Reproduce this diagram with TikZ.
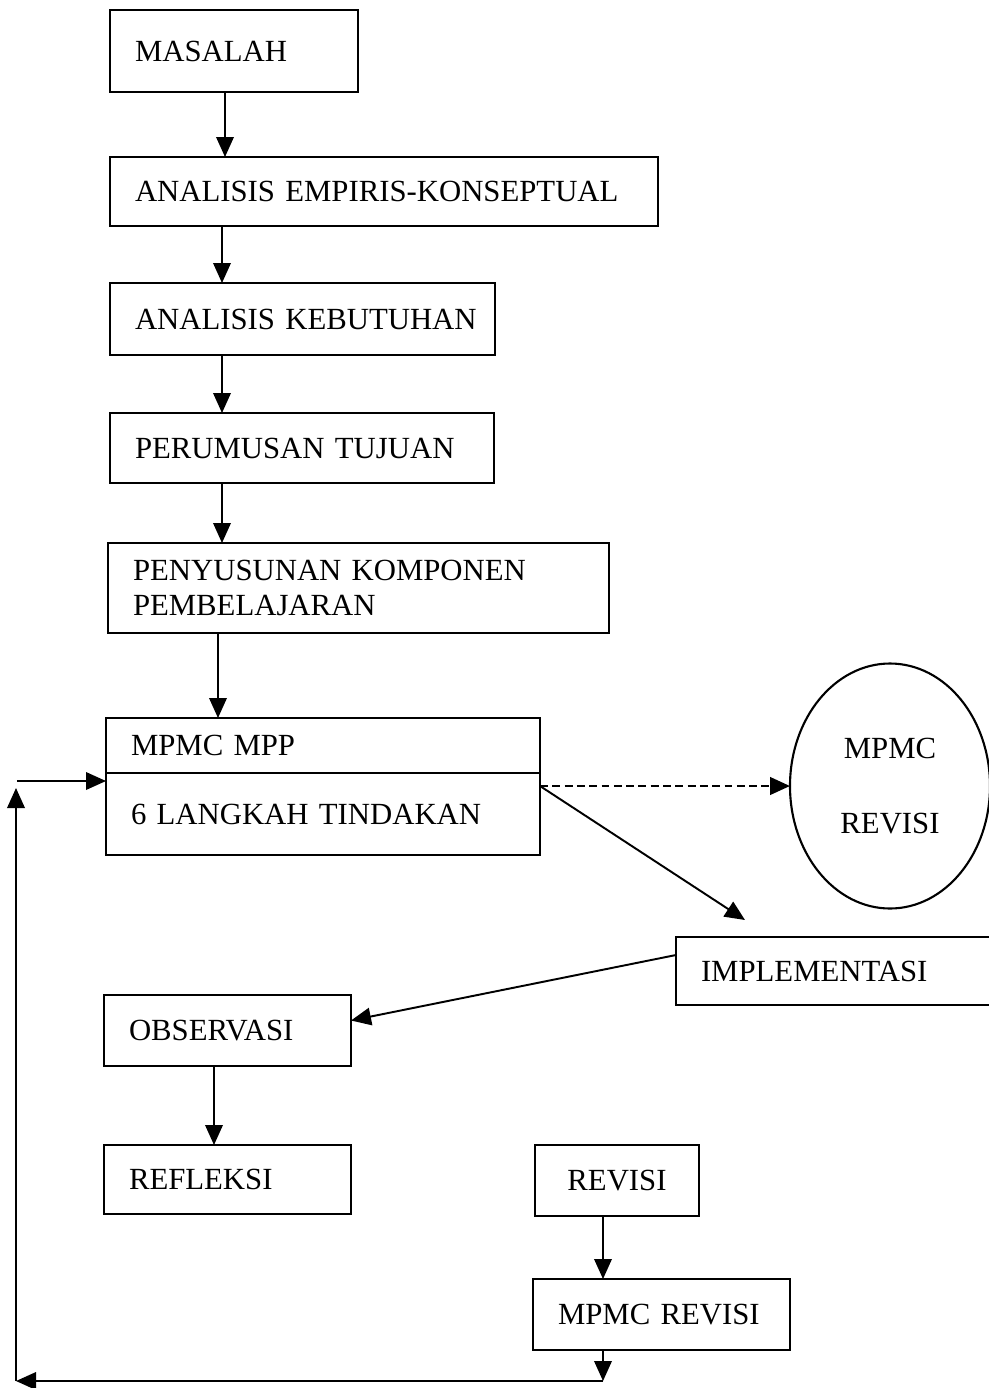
\documentclass[tikz,border=0pt]{standalone}
\usepackage{fontspec}
\setmainfont{Liberation Serif}
\usetikzlibrary{positioning,shapes,arrows.meta,calc}

\begin{document}
\begin{tikzpicture}[node distance=1.2cm, auto]
	\tikzset{
		mybox/.style={rectangle, draw=black, line width=1.2pt, outer sep=0pt, inner xsep=5mm, inner ysep=0mm, align=left, font=\fontsize{17.5}{20}\selectfont},
		myoval/.style={ellipse, draw=black, line width=1.2pt, outer sep=0pt, inner sep=0mm, minimum width=4cm, minimum height=4.9cm, align=center, font=\fontsize{17.5}{20}\selectfont},
		myarrow/.style={-{Triangle[length=4mm,width=3.5mm]}, line width=1.1pt},
		mydash/.style={myarrow, line width=1.6pt, dash pattern=on 4.5pt off 2.5pt}
	}
	\useasboundingbox (0,0) rectangle (19.78,-27.76);
	\clip (0,0) rectangle (19.78,-27.76);

	\node[mybox, text width=3.96cm, minimum height=1.64cm, anchor=north west] (masalah) at (2.2,-0.2) {MASALAH};
	\node[mybox, text width=9.96cm, minimum height=1.38cm, below=1.3cm of masalah.south west, anchor=north west] (empiris) {ANALISIS EMPIRIS-KONSEPTUAL};
	\node[mybox, text width=6.7cm, minimum height=1.44cm, below=1.14cm of empiris.south west, anchor=north west] (kebutuhan) {\mbox{ANALISIS KEBUTUHAN}};
	\node[mybox, text width=6.68cm, minimum height=1.4cm, below=1.16cm of kebutuhan.south west, anchor=north west] (tujuan) {PERUMUSAN TUJUAN};
	\node[mybox, text width=9.02cm, minimum height=1.8cm, below=1.2cm of tujuan.south west, anchor=north west, xshift=-0.04cm] (komponen) {PENYUSUNAN KOMPONEN\\PEMBELAJARAN};

	\node[mybox, text width=7.68cm, minimum height=1.1cm, below=1.7cm of komponen.south west, anchor=north west, xshift=-0.04cm] (mpp) {MPMC MPP};
	\node[mybox, text width=7.68cm, minimum height=1.64cm, anchor=north west] (langkah) at (mpp.south west) {6 LANGKAH TINDAKAN};
	\coordinate (split) at ([yshift=-0.26cm]langkah.north east);
	\node[myoval, right=5cm of split] (rev) {MPMC\\[0.8cm]REVISI};

	\node[mybox, text width=5.8cm, minimum height=1.36cm, below right=1.64cm and 2.72cm of langkah.south east, anchor=north west] (impl) {IMPLEMENTASI};
	\node[mybox, text width=3.94cm, minimum height=1.42cm, below=2.8cm of langkah.south west, anchor=north west, xshift=-0.04cm] (obs) {OBSERVASI};
	\node[mybox, text width=3.94cm, minimum height=1.38cm, below=1.58cm of obs.south west, anchor=north west] (ref) {REFLEKSI};
	\node[mybox, text width=2.28cm, minimum height=1.42cm, right=3.68cm of ref.north east, anchor=north west, align=center] (revisi) {REVISI};
	\node[mybox, text width=4.14cm, minimum height=1.42cm, below=1.26cm of revisi.south west, anchor=north west, xshift=-0.04cm] (mpmcrev) {MPMC REVISI};

	\draw[myarrow] ([xshift=-0.18cm]masalah.south) -- ([xshift=-0.18cm]masalah.south |- empiris.north);
	\draw[myarrow] ([xshift=2.24cm]empiris.south west) -- ([xshift=2.24cm]empiris.south west |- kebutuhan.north);
	\draw[myarrow] ([xshift=2.24cm]kebutuhan.south west) -- ([xshift=2.24cm]kebutuhan.south west |- tujuan.north);
	\draw[myarrow] ([xshift=2.24cm]tujuan.south west) -- ([xshift=2.24cm]tujuan.south west |- komponen.north);
	\draw[myarrow] ([xshift=2.2cm]komponen.south west) -- ([xshift=2.2cm]komponen.south west |- mpp.north);

	\draw[mydash] (split) -- (rev.west);
	\draw[myarrow] (split) -- ([shift={(1.38cm,0.34cm)}]impl.north west);
	\draw[myarrow] ([yshift=0.32cm]impl.west) -- ([yshift=0.2cm]obs.east);
	\draw[myarrow] ([xshift=2.2cm]obs.south west) -- ([xshift=2.2cm]obs.south west |- ref.north);
	\draw[myarrow] ([xshift=1.36cm]revisi.south west) -- ([xshift=1.36cm]revisi.south west |- mpmcrev.north);

	% feedback loop
	\coordinate (bot) at ([xshift=1.4cm,yshift=-0.62cm]mpmcrev.south west);
	\coordinate (loopT) at (0.32,-15.76);
	\coordinate (loopL) at (loopT |- bot);
	\coordinate (entry) at (0.34,-15.62);
	\draw[myarrow] ([xshift=1.4cm]mpmcrev.south west) -- (bot);
	\draw[myarrow] (bot) -- (loopL);
	\draw[myarrow] (loopL) -- (loopT);
	\draw[myarrow] (entry) -- (entry -| mpp.west);
\end{tikzpicture}
\end{document}
